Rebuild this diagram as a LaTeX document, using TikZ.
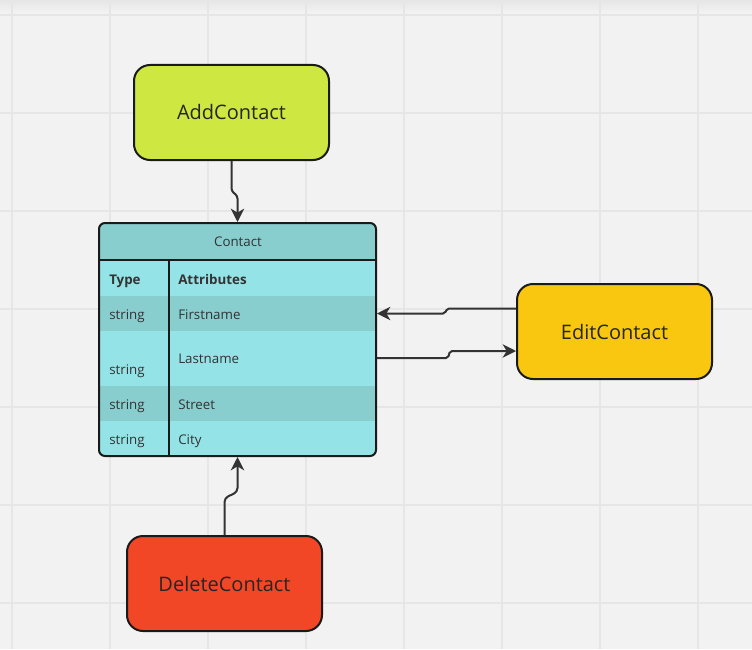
\documentclass[tikz,border=0pt]{standalone}
\usepackage{fontspec}
\setmainfont{Open Sans}
\usetikzlibrary{arrows.meta,calc}
\definecolor{bg}{HTML}{F2F2F2}
\definecolor{gridc}{HTML}{E6E6E6}
\definecolor{lineclr}{HTML}{333333}
\definecolor{bordc}{HTML}{1A1A1A}
\definecolor{addc}{HTML}{CEE741}
\definecolor{editc}{HTML}{FAC710}
\definecolor{delc}{HTML}{F24726}
\definecolor{tbody}{HTML}{94E3E6}
\definecolor{thead}{HTML}{88CECF}
\definecolor{txt}{HTML}{262626}
\tikzset{
  actionbox/.style={draw=bordc, line width=1.5pt, rounded corners=12pt,
    minimum width={195*0.75pt}, minimum height={95*0.75pt},
    font=\fontsize{15}{18}\selectfont, text=txt, inner sep=0pt},
  conn/.style={draw=lineclr, line width=1.5pt, -{Stealth[length=10pt,width=10pt,inset=3pt]}},
  cell/.style={anchor=base west, font=\fontsize{10}{12}\selectfont, text=lineclr, inner sep=0pt},
  gridline/.style={draw=gridc, line width=0.8pt}
}
\begin{document}
\begin{tikzpicture}[x=0.75pt,y=-0.75pt]
\useasboundingbox (0,0) rectangle (752,649);
\fill[bg] (0,0) rectangle (752,649);
\shade[top color=gridc, bottom color=bg] (0,0) rectangle (752,12);
\foreach \gx in {12,110,208,306,404,502,600,698}
  \draw[gridline] (\gx,0) -- (\gx,649);
\foreach \gy in {15,113,211,309,407,505,603}
  \draw[gridline] (0,\gy) -- (752,\gy);

% action boxes
\node[actionbox, fill=addc] (add) at (231.5,112.5) {AddContact};
\node[actionbox, fill=editc] (edit) at (614.5,331.5) {EditContact};
\node[actionbox, fill=delc] (del) at (224.5,583.5) {DeleteContact};

% table
\begin{scope}
\clip[rounded corners=4.5pt] (99,223) rectangle (376,456);
\fill[tbody] (99,223) rectangle (376,456);
\fill[thead] (99,223) rectangle (376,260);
\fill[thead] (99,296) rectangle (376,331);
\fill[thead] (99,386) rectangle (376,421);
\end{scope}
\draw[bordc, line width=1.5pt] (99,260) -- (376,260);
\draw[bordc, line width=1.5pt] (169,260) -- (169,456);
\node[draw=bordc, line width=1.5pt, rounded corners=4.5pt,
  minimum width={277*0.75pt}, minimum height={233*0.75pt}, inner sep=0pt] (contact) at (237.5,339.5) {};

\node[font=\fontsize{10}{12}\selectfont, text=lineclr, anchor=base] (title) at (238,246) {Contact};
\node[cell] (ht) at (109,284) {\textbf{Type}};
\node[cell] (ha) at (178,284) {\textbf{Attributes}};
\node[cell] (t1) at (109,319) {string};
\node[cell] (a1) at (178,319) {Firstname};
\node[cell] (t2) at (109,374) {string};
\node[cell] (a2) at (178,363) {Lastname};
\node[cell] (t3) at (109,409) {string};
\node[cell] (a3) at (178,409) {Street};
\node[cell] (t4) at (109,444) {string};
\node[cell] (a4) at (178,444) {City};

% connectors
\draw[conn, rounded corners=2pt] (add.south) -- ++(0,30) -- ++(6,5) -- (contact.north);
\draw[conn, rounded corners=3pt] (del.north) -- ++(0,-37) -- ++(13,-6) -- (contact.south);
\draw[conn, rounded corners=1.5pt] ($(edit.west)+(0,-23)$) -- ++(-69,0) -- ++(-2,5) -- ($(contact.east)+(0,-26)$);
\draw[conn, rounded corners=1.5pt] ($(contact.east)+(0,18.5)$) -- ++(71,0) -- ++(2,-7) -- ($(edit.west)+(0,19.5)$);
\end{tikzpicture}
\end{document}
